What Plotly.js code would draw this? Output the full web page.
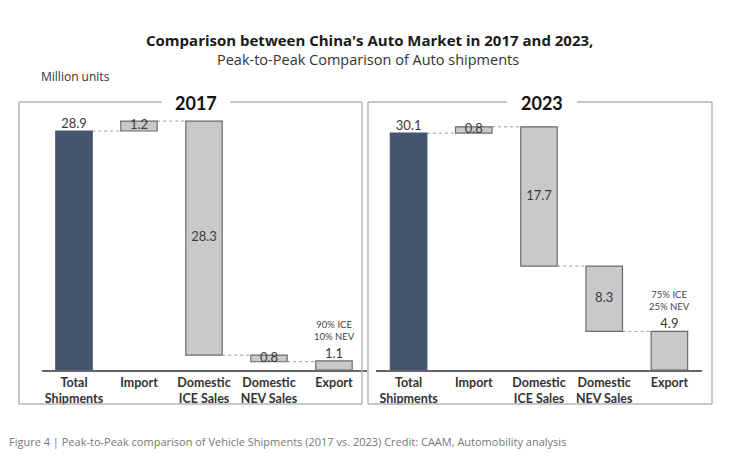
<!DOCTYPE html>
<html>
<head>
<meta charset="utf-8">
<script src="https://cdn.plot.ly/plotly-3.0.1.min.js"></script>
<style>html,body{margin:0;padding:0;background:#fff;}#chart{width:740px;height:472px;}</style>
</head>
<body>
<div id="chart"></div>
<script>
// ---- data ----
const categories = ["Total<br>Shipments", "Import", "Domestic<br>ICE Sales", "Domestic<br>NEV Sales", "Export"];
const values2017 = [28.9, 1.2, 28.3, 0.8, 1.1];
const values2023 = [30.1, 0.8, 17.7, 8.3, 4.9];
const labels2017 = ["28.9", "1.2", "28.3", "0.8", "1.1"];
const labels2023 = ["30.1", "0.8", "17.7", "8.3", "4.9"];
const exportMix2017 = "90% ICE<br>10% NEV";
const exportMix2023 = "75% ICE<br>25% NEV";
const panelTitles = ["2017", "2023"];

// ---- style ----
const DARK = "#46546f", GREY = "#c9c9cb", EDGE = "#6b6b6b";
const FONT = "Lato, 'Open Sans', sans-serif";
const WIDE = "'Open Sans', Lato, sans-serif";
const BW = 0.56;

// waterfall bases: total from 0, import stacked on total, ICE and NEV stepping down, export from 0
function bases(v) {
  const top = v[0] + v[1];
  const iceBase = top - v[2];
  const nevBase = iceBase - v[3];
  return [0, v[0], iceBase, nevBase, 0];
}

const mixNotes = [];

function panelTraces(v, labels, mix, xa, ya) {
  const b = bases(v);
  const xs = v.map((_, i) => i);
  const traces = [];
  traces.push({
    type: "bar", x: xs, y: v, base: b, width: BW, xaxis: xa, yaxis: ya,
    marker: {color: [DARK, GREY, GREY, GREY, GREY], line: {color: [DARK, EDGE, EDGE, EDGE, EDGE], width: 1.2}},
    hoverinfo: "skip", showlegend: false
  });
  // connectors
  const cx = [], cy = [];
  const tops = v.map((val, i) => b[i] + val);
  const pairs = [[0, tops[0], 1], [1, tops[1], 2], [2, b[2], 3], [3, b[3], 4]];
  pairs.forEach(([i, y, j]) => { cx.push(i + BW / 2, j - BW / 2, null); cy.push(y, y, null); });
  traces.push({
    type: "scatter", mode: "lines", x: cx, y: cy, xaxis: xa, yaxis: ya,
    line: {color: "#9a9a9a", width: 1, dash: "dot"}, hoverinfo: "skip", showlegend: false
  });
  // value labels
  const ly = v.map((val, i) => (i === 0 || i === 4) ? tops[i] : b[i] + val / 2);
  const pos = ["top center", "middle center", "middle center", "middle center", "top center"];
  traces.push({
    type: "scatter", mode: "text", x: xs, y: ly, text: labels, textposition: pos,
    xaxis: xa, yaxis: ya, cliponaxis: false,
    textfont: {family: FONT, size: 13, color: "#3a3a3a"}, hoverinfo: "skip", showlegend: false
  });
  // export mix note (annotation above the export value)
  mixNotes.push({
    text: mix, xref: xa, yref: ya, x: 4, y: tops[4], xanchor: "center", yanchor: "bottom",
    yshift: 17, showarrow: false, font: {family: FONT, size: 9.5, color: "#444"}
  });
  return traces;
}

const data = [
  ...panelTraces(values2017, labels2017, exportMix2017, "x", "y"),
  ...panelTraces(values2023, labels2023, exportMix2023, "x2", "y2")
];

const W = 740, H = 472;
const px = x => x / W, py = y => (H - y) / H;

function xaxis(dom) {
  return {
    domain: dom, range: [-0.5, 4.5], tickvals: [0, 1, 2, 3, 4], ticktext: categories,
    showgrid: false, zeroline: false, showline: true, linecolor: "#666", linewidth: 1.5,
    ticks: "", tickfont: {family: FONT, size: 12.5, color: "#333", weight: 700}, fixedrange: true
  };
}
function yaxis(range, anchor) {
  return {domain: [py(370), py(110)], range: range, visible: false, anchor: anchor, fixedrange: true};
}

const boxColor = "#b5b5b5";
function box(x0, x1, gap0, gap1) {
  const y0 = py(102), y1 = py(404);
  const l = {color: boxColor, width: 1.5};
  return [
    {type: "line", xref: "paper", yref: "paper", x0: px(x0), x1: px(x0), y0: y0, y1: y1, line: l},
    {type: "line", xref: "paper", yref: "paper", x0: px(x1), x1: px(x1), y0: y0, y1: y1, line: l},
    {type: "line", xref: "paper", yref: "paper", x0: px(x0), x1: px(x1), y0: y1, y1: y1, line: l},
    {type: "line", xref: "paper", yref: "paper", x0: px(x0), x1: px(gap0), y0: y0, y1: y0, line: l},
    {type: "line", xref: "paper", yref: "paper", x0: px(gap1), x1: px(x1), y0: y0, y1: y0, line: l}
  ];
}

function paperText(text, x, y, xanchor, font) {
  return {text: text, xref: "paper", yref: "paper", x: px(x), y: py(y), xanchor: xanchor,
          yanchor: "middle", showarrow: false, font: font};
}

const layout = {
  width: W, height: H, margin: {l: 0, r: 0, t: 0, b: 0},
  paper_bgcolor: "#fff", plot_bgcolor: "rgba(0,0,0,0)",
  xaxis: xaxis([px(41.5), px(366.5)]),
  yaxis: yaxis([0, 260 / 8.27], "x"),
  xaxis2: xaxis([px(376), px(702)]),
  yaxis2: yaxis([0, 260 / 7.87], "x2"),
  shapes: [...box(19, 362, 162, 230), ...box(368, 712, 507, 577)],
  annotations: [
    paperText("<b>Comparison between China's Auto Market in 2017 and 2023,</b>", 369, 40, "center",
      {family: WIDE, size: 15, color: "#1a1a1a"}),
    paperText("Peak-to-Peak Comparison of Auto shipments", 368, 59, "center",
      {family: WIDE, size: 14.5, color: "#333"}),
    paperText("Million units", 39, 76, "left", {family: WIDE, size: 12, color: "#333"}),
    paperText("<b>" + panelTitles[0] + "</b>", 196, 103, "center", {family: FONT, size: 18, color: "#111"}),
    paperText("<b>" + panelTitles[1] + "</b>", 542, 103, "center", {family: FONT, size: 18, color: "#111"}),
    paperText("Figure 4 | Peak-to-Peak comparison of Vehicle Shipments (2017 vs. 2023) Credit: CAAM, Automobility analysis",
      7, 441, "left", {family: WIDE, size: 11, color: "#777"}),
    ...mixNotes
  ]
};

Plotly.newPlot("chart", data, layout, {displayModeBar: false, staticPlot: true});
</script>
</body>
</html>
